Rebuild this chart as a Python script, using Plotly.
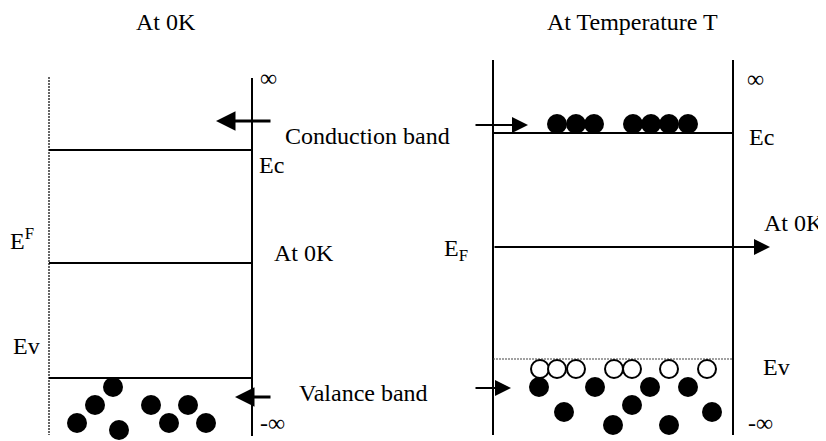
import plotly.graph_objects as go

# ---------------- data (diagram coordinates: x to the right, energy axis downward in px-like units) -------------
W, H = 826, 441
PAGE_MARGIN = 8   # default body margin of the html page

# Left panel: "At 0K"
left_edge_x = [49, 252]            # dotted left boundary, solid right boundary
left_span_y = [77, 435]
left_level_names = ["Ec", "EF", "Ev"]
left_level_y = [150, 263, 378]
left_electron_x = [113, 95, 77, 119, 151, 169, 188, 206]
left_electron_y = [387, 405, 423, 430, 405, 423, 405, 423]

# Right panel: "At Temperature T"
right_edge_x = [493, 733]
right_span_y = [60, 435]
right_level_names = ["Ec", "EF", "Ev"]
right_level_y = [133, 247, 359]
cond_electron_x = [557, 576, 594, 633, 651, 669, 688]
cond_electron_y = [124, 124, 124, 124, 124, 124, 124]
hole_x = [540, 557, 576, 614, 632, 669, 707]
hole_y = [369, 369, 369, 369, 369, 369, 369]
val_electron_x = [539, 595, 650, 688, 564, 632, 712, 613, 669]
val_electron_y = [387, 387, 387, 387, 412, 405, 412, 425, 425]

# Text labels
label_text = ["At 0K", "At Temperature T", "∞", "Ec", "Conduction band", "At 0K",
              "E<sup>F</sup>", "Ev", "Valance band", "-∞",
              "E<sub>F</sub>", "∞", "Ec", "At 0K", "Ev", "-∞"]
label_x = [166, 632, 268, 271, 367, 304, 22, 26, 363, 272,
           456, 755, 761, 794, 776, 760]
label_y = [22, 22, 78, 165, 136, 253, 239, 346, 393, 423,
           250, 79, 137, 223, 367, 423]

# Arrows (tail -> head)
arrow_tail_x = [272, 272, 474, 474, 493]
arrow_tail_y = [121, 397, 125, 388, 247]
arrow_head_x = [216, 235, 528, 511, 770]
arrow_head_y = [121, 397, 125, 388, 247]
arrow_width = [3, 3, 2, 2, 2]
arrow_size = [1.3, 1.3, 1.6, 1.6, 1.6]

FONT = "Liberation Serif, Times New Roman, serif"
BLACK = "#000000"

fig = go.Figure()

def line(xs, ys, width=2, dash="solid", color=BLACK):
    fig.add_trace(go.Scatter(x=xs, y=ys, mode="lines",
                             line=dict(color=color, width=width, dash=dash),
                             hoverinfo="skip", showlegend=False))

# Left panel frame
line([left_edge_x[0], left_edge_x[0]], left_span_y, width=1.5, dash="2px,1px", color="#333333")
line([left_edge_x[1], left_edge_x[1]], [left_span_y[0] + 1, left_span_y[1] + 1], width=2)
for yv in left_level_y:
    line(left_edge_x, [yv, yv], width=2)

# Right panel frame
line([right_edge_x[0], right_edge_x[0]], right_span_y, width=2)
line([right_edge_x[1], right_edge_x[1]], right_span_y, width=2)
line(right_edge_x, [right_level_y[0], right_level_y[0]], width=2)
line(right_edge_x, [right_level_y[2], right_level_y[2]], width=1.2, dash="2px,1px", color="#444444")

# Electrons and holes
def dots(xs, ys, filled=True):
    if filled:
        mk = dict(size=20, color=BLACK, line=dict(width=0))
    else:
        mk = dict(size=18, color="white", line=dict(color=BLACK, width=2))
    fig.add_trace(go.Scatter(x=xs, y=ys, mode="markers", marker=mk,
                             hoverinfo="skip", showlegend=False))

dots(left_electron_x, left_electron_y)
dots(cond_electron_x, cond_electron_y)
dots(hole_x, hole_y, filled=False)
dots(val_electron_x, val_electron_y)

# Arrows
for tx, ty, hx, hy, w, s in zip(arrow_tail_x, arrow_tail_y, arrow_head_x, arrow_head_y,
                                arrow_width, arrow_size):
    fig.add_annotation(x=hx, y=hy, ax=tx, ay=ty, xref="x", yref="y", axref="x", ayref="y",
                       text="", showarrow=True, arrowhead=2, arrowsize=s,
                       arrowwidth=w, arrowcolor=BLACK, standoff=0, startstandoff=0)

# Labels
for t, x, y in zip(label_text, label_x, label_y):
    fig.add_annotation(x=x, y=y, xref="x", yref="y", text=t, showarrow=False,
                       font=dict(family=FONT, size=24, color=BLACK),
                       xanchor="center", yanchor="middle")

fig.update_layout(
    width=W - PAGE_MARGIN, height=H - PAGE_MARGIN,
    margin=dict(l=0, r=0, t=0, b=0),
    paper_bgcolor="white", plot_bgcolor="white",
    xaxis=dict(range=[PAGE_MARGIN, W], visible=False, fixedrange=True),
    yaxis=dict(range=[H, PAGE_MARGIN], visible=False, fixedrange=True),
)

fig.write_html("out.html")
